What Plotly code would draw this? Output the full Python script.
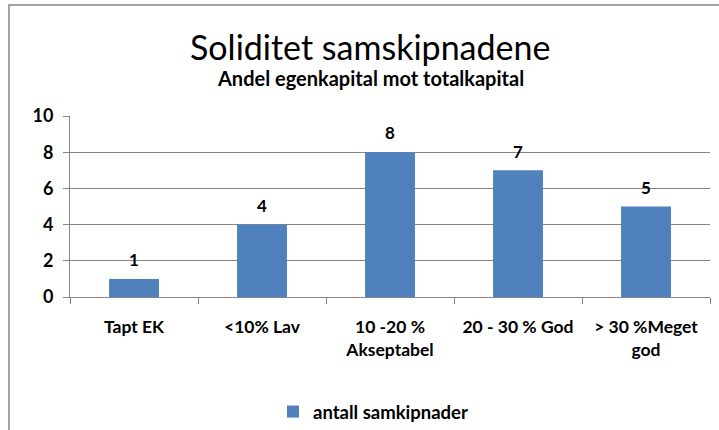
import plotly.graph_objects as go

categories = ["Tapt EK", "<10% Lav", "10 -20 %<br>Akseptabel", "20 - 30 % God", "> 30 %Meget<br>god"]
values = [1, 4, 8, 7, 5]
series_name = "antall samkipnader"
title = "Soliditet samskipnadene"
subtitle = "Andel egenkapital mot totalkapital"

FONT = "Lato"
L, R, T, B = 70, 9, 116, 133
W, H = 719, 430
pw = W - L - R
ph = H - T - B

def px2x(px):
    return (px - L) / pw

def py2y(py):
    return (H - B - py) / ph

fig = go.Figure()
fig.add_trace(go.Bar(
    x=categories, y=values, name=series_name,
    marker=dict(color="#4F81BD", line=dict(width=0)),
))
# data labels above bars
fig.add_trace(go.Scatter(
    x=categories, y=values, mode="markers+text",
    text=[str(v) for v in values], textposition="top center",
    textfont=dict(family=FONT, size=17, color="#000000", weight="bold"),
    marker=dict(size=12, color="rgba(0,0,0,0)"),
    showlegend=False, hoverinfo="skip", cliponaxis=False,
))

fig.update_layout(
    width=W, height=H,
    margin=dict(l=L, r=R, t=T, b=B, autoexpand=False),
    paper_bgcolor="white", plot_bgcolor="white",
    bargap=0.61,
    showlegend=True,
    legend=dict(orientation="h", xref="container", yref="container",
                x=273 / W, y=1 - 393 / H, xanchor="left", yanchor="top",
                font=dict(family=FONT, size=18.5, color="#000000", weight="bold"),
                itemwidth=30, itemsizing="constant"),
    font=dict(family=FONT, color="#000000"),
    xaxis=dict(
        automargin=False,
        showline=True, linecolor="#868686", linewidth=1,
        ticks="outside", tickson="boundaries", ticklen=6, tickcolor="#868686",
        ticklabelstandoff=14,
        tickfont=dict(family=FONT, size=17.5, color="#000000", weight="bold"),
        showgrid=False,
    ),
    yaxis=dict(
        automargin=False,
        range=[0, 10], dtick=2,
        showline=True, linecolor="#868686", linewidth=1,
        ticks="outside", ticklen=6, tickcolor="#868686",
        ticklabelstandoff=6,
        showgrid=True, gridcolor="#868686", gridwidth=1,
        tickfont=dict(family=FONT, size=18, color="#000000", weight="bold"),
        zeroline=False,
    ),
    annotations=[
        dict(text=title, x=px2x(370), y=py2y(46), xref="paper", yref="paper",
             showarrow=False, xanchor="center", yanchor="middle",
             font=dict(family=FONT, size=34, color="#000000")),
        dict(text="<b>" + subtitle + "</b>", x=px2x(370), y=py2y(78), xref="paper", yref="paper",
             showarrow=False, xanchor="center", yanchor="middle",
             font=dict(family=FONT, size=20, color="#000000")),
    ],
    shapes=[
        dict(type="rect", xref="paper", yref="paper",
             x0=px2x(9), x1=px2x(760), y0=py2y(5), y1=py2y(480),
             line=dict(color="#868686", width=1.5), fillcolor="rgba(0,0,0,0)", layer="below"),
    ],
)

fig.write_html("out.html", config={"displayModeBar": False},
               post_script="document.body.style.margin='0';document.body.style.overflow='hidden';")
